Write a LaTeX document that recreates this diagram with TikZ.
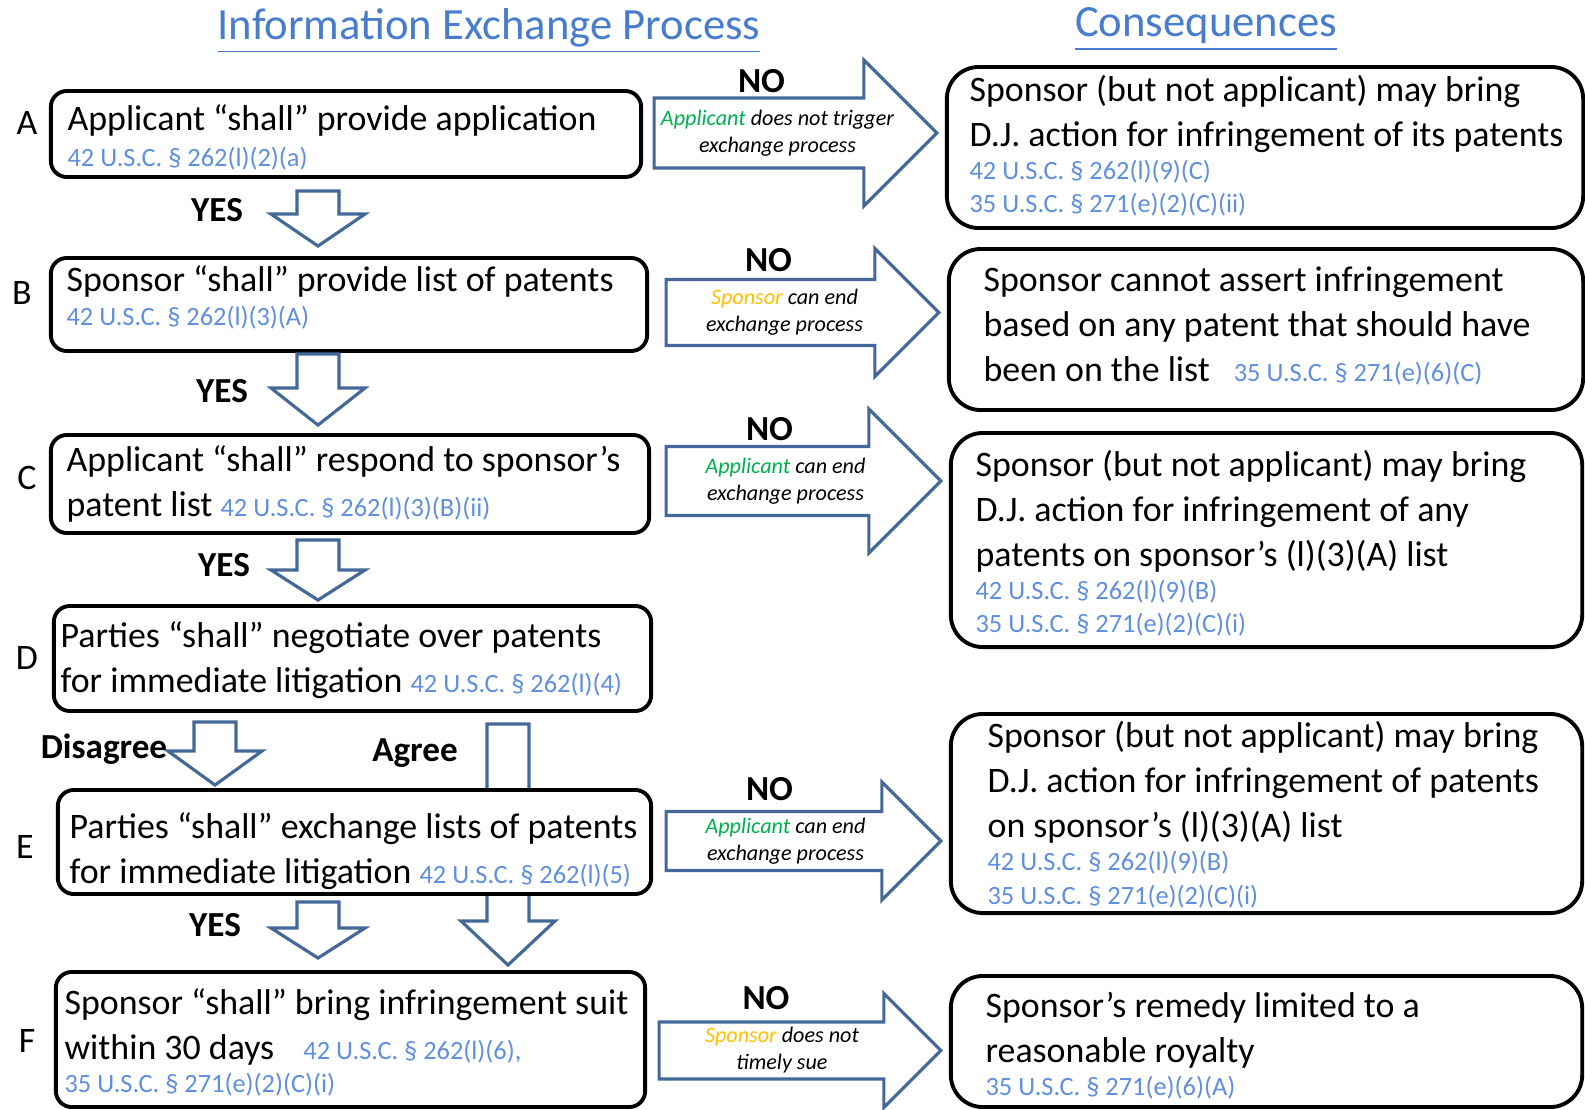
\documentclass[tikz,border=0pt]{standalone}
\usepackage{fontspec}
\setmainfont{Carlito}
\usepackage{tikz}
\usetikzlibrary{calc}
\definecolor{citeblue}{RGB}{95,143,222}
\definecolor{headblue}{RGB}{72,125,205}
\definecolor{arrblue}{RGB}{68,104,152}
\definecolor{appgreen}{RGB}{0,176,80}
\definecolor{sponorange}{RGB}{255,192,0}
\newcommand{\usc}{\color{citeblue}\fontsize{7.5}{9}\selectfont}
\newcommand{\appl}{\textcolor{appgreen}{Applicant}}
\newcommand{\spon}{\textcolor{sponorange}{Sponsor}}
\newcommand{\blockDown}[6]{\coordinate (dx) at (#3,0); \path (#1.south -| dx) ++(0,#4) coordinate (ds); \path (#2.north -| dx) ++(0,-#5) coordinate (dt); \draw[blockarr] let \p1=(ds), \p2=(dt) in (\x1-0.21cm,\y1) -- (\x1+0.21cm,\y1) -- (\x1+0.21cm,\y2+#6) -- (\x1+0.47cm,\y2+#6) -- (\x1,\y2) -- (\x1-0.47cm,\y2+#6) -- (\x1-0.21cm,\y2+#6) -- cycle;}
\newcommand{\blockRight}[8]{\path (#1.east) ++(#6,#3) coordinate (rs); \path (#2.west) ++(-8,0) coordinate (rt); \draw[blockarr] let \p1=(rs), \p2=(rt) in (\x1,\y1+#4) -- (\x2-#5,\y1+#4) -- (\x2-#5,\y1+#5) -- (\x2,\y1) -- (\x2-#5,\y1-#5) -- (\x2-#5,\y1-#4) -- (\x1,\y1-#4) -- cycle; \node[arrtxt] (#7) at ($(rs -| rt)!0.5!(rs)+(-18,0)$) {#8}; \node[yeslab] (#7no) at ($(#7)+(-16,-52)$) {NO};}
\tikzset{
  stepbox/.style={draw, line width=1.1pt, rounded corners=0.16cm, fill=white, inner sep=0pt},
  outbox/.style={draw, line width=1.1pt, rounded corners=0.32cm, fill=white, inner sep=0pt},
  boxtxt/.style={anchor=west, align=left, inner sep=0pt, font=\fontsize{10.2}{12.8}\selectfont},
  arrtxt/.style={align=center, inner sep=0pt, font=\fontsize{6.3}{7.7}\selectfont\itshape},
  yeslab/.style={inner sep=0pt, font=\fontsize{10}{12}\selectfont\bfseries},
  letlab/.style={inner sep=0pt, font=\fontsize{10.2}{12}\selectfont},
  headtxt/.style={inner sep=0pt, anchor=base, text=headblue, font=\fontsize{12.7}{15}\selectfont},
  blockarr/.style={draw=arrblue, line width=0.9pt, fill=white, line join=miter}
}

\begin{document}
\begin{tikzpicture}[x=0.01cm, y=-0.01cm]
        \useasboundingbox (0,0) rectangle (1585,1109);

        \node[headtxt] (hdLeft) at (489,39) {\underline{Information Exchange Process}};
        \node[headtxt] (hdRight) at (1206,37) {\underline{Consequences}};

        \node[stepbox, minimum width=5.90cm, minimum height=0.86cm] (boxA) at (346,134) {};
        \node[stepbox, minimum width=5.96cm, minimum height=0.93cm] (boxB) at (349,304.5) {};
        \node[stepbox, minimum width=5.98cm, minimum height=0.98cm] (boxC) at (350,484) {};
        \node[stepbox, minimum width=5.97cm, minimum height=1.05cm] (boxD) at (352.5,658.5) {};
        \node[stepbox, minimum width=5.89cm, minimum height=1.35cm] (boxF) at (350.5,1039.5) {};

        \blockDown{boxD}{boxF}{508}{11}{5}{0.44cm}
        \node[stepbox, minimum width=5.93cm, minimum height=1.04cm] (boxE) at (354.5,842) {};

        \node[outbox, minimum width=6.36cm, minimum height=1.61cm] (outA) at (1265,147.5) {};
        \node[outbox, minimum width=6.34cm, minimum height=1.61cm] (outB) at (1266,329.5) {};
        \node[outbox, minimum width=6.31cm, minimum height=2.14cm] (outC) at (1266.5,540) {};
        \node[outbox, minimum width=6.31cm, minimum height=1.99cm] (outE) at (1266.5,813.5) {};
        \node[outbox, minimum width=6.31cm, minimum height=1.31cm] (outF) at (1266.5,1041.5) {};

        \node[boxtxt] (tA) at ($(boxA.west)+(18,3)$) {Applicant “shall” provide application\\[-2.6pt]{\usc 42 U.S.C. § 262(l)(2)(a)}};
        \node[boxtxt] (tB) at ($(boxB.west)+(17,-7)$) {Sponsor “shall” provide list of patents\\[-3.3pt]{\usc 42 U.S.C. § 262(l)(3)(A)}};
        \node[boxtxt] (tC) at ($(boxC.west)+(17,0)$) {Applicant “shall” respond to sponsor’s\\patent list {\usc 42 U.S.C. § 262(l)(3)(B)(ii)}};
        \node[boxtxt] (tD) at ($(boxD.west)+(8,2)$) {Parties “shall” negotiate over patents\\for immediate litigation {\usc 42 U.S.C. § 262(l)(4)}};
        \node[boxtxt] (tE) at ($(boxE.west)+(13,9)$) {Parties “shall” exchange lists of patents\\for immediate litigation {\usc 42 U.S.C. § 262(l)(5)}};
        \node[boxtxt] (tF) at ($(boxF.west)+(10,3)$) {Sponsor “shall” bring infringement suit\\within 30 days\hspace{6pt} {\usc 42 U.S.C. § 262(l)(6),}\\[-3.3pt]{\usc 35 U.S.C. § 271(e)(2)(C)(i)}};

        \node[boxtxt] (tOA) at ($(outA.west)+(24,-2)$) {Sponsor (but not applicant) may bring\\D.J. action for infringement of its patents\\[-3.3pt]{\usc 42 U.S.C. § 262(l)(9)(C)}\\[-3.4pt]{\usc 35 U.S.C. § 271(e)(2)(C)(ii)}};
        \node[boxtxt] (tOB) at ($(outB.west)+(36,-4)$) {Sponsor cannot assert infringement\\based on any patent that should have\\been on the list\hspace{4.5pt} {\usc 35 U.S.C. § 271(e)(6)(C)}};
        \node[boxtxt] (tOC) at ($(outC.west)+(26,3)$) {Sponsor (but not applicant) may bring\\D.J. action for infringement of any\\patents on sponsor’s (l)(3)(A) list\\[-3.3pt]{\usc 42 U.S.C. § 262(l)(9)(B)}\\[-3.4pt]{\usc 35 U.S.C. § 271(e)(2)(C)(i)}};
        \node[boxtxt] (tOE) at ($(outE.west)+(38,1)$) {Sponsor (but not applicant) may bring\\D.J. action for infringement of patents\\on sponsor’s (l)(3)(A) list\\[-3.3pt]{\usc 42 U.S.C. § 262(l)(9)(B)}\\[-3.4pt]{\usc 35 U.S.C. § 271(e)(2)(C)(i)}};
        \node[boxtxt] (tOF) at ($(outF.west)+(36,4)$) {Sponsor’s remedy limited to a\\reasonable royalty\\[-3.3pt]{\usc 35 U.S.C. § 271(e)(6)(A)}};

        \node[letlab] (lA) at (27,123) {A};
        \node[letlab] (lB) at (22,293) {B};
        \node[letlab] (lC) at (27,478) {C};
        \node[letlab] (lD) at (27,658) {D};
        \node[letlab] (lE) at (25,847) {E};
        \node[letlab] (lF) at (27,1041) {F};

        \blockDown{boxA}{boxB}{318}{12}{10}{0.32cm}
        \blockDown{boxB}{boxC}{318}{1}{8}{0.37cm}
        \blockDown{boxC}{boxD}{318}{5}{4}{0.30cm}
        \blockDown{boxD}{boxE}{215}{9}{3}{0.34cm}
        \blockDown{boxE}{boxF}{318}{6}{12}{0.30cm}

        \node[yeslab] (yA) at (217,210) {YES};
        \node[yeslab] (yB) at (222,391) {YES};
        \node[yeslab] (yC) at (224,565) {YES};
        \node[yeslab] (yE) at (215,925) {YES};
        \node[yeslab] (yDis) at (104,749) {Disagree};
        \node[yeslab] (yAgr) at (415,753) {Agree};

        \blockRight{boxA}{outA}{-1}{0.35cm}{0.73cm}{11}{nA}{\appl{} does not trigger\\exchange process}
        \blockRight{boxB}{outB}{8}{0.33cm}{0.64cm}{17}{nB}{\spon{} can end\\exchange process}
        \blockRight{boxC}{outC}{-3}{0.345cm}{0.72cm}{15}{nC}{\appl{} can end\\exchange process}
        \blockRight{boxE}{outE}{-1}{0.295cm}{0.59cm}{13}{nE}{\appl{} can end\\exchange process}
        \blockRight{boxF}{outF}{11}{0.285cm}{0.57cm}{12}{nF}{\spon{} does not\\timely sue}

\end{tikzpicture}
\end{document}
